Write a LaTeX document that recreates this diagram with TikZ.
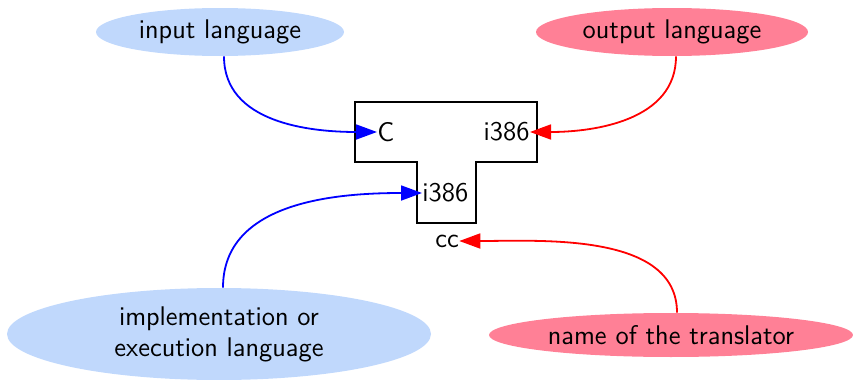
\documentclass[tikz,border=0pt]{standalone}
\usepackage{tikz}
\usetikzlibrary{arrows.meta,shapes.geometric}
\definecolor{srcblue}{RGB}{192,216,252}
\definecolor{dstpink}{RGB}{255,128,150}
\tikzset{
	lang/.style={ellipse,inner sep=0pt,align=center},
	lbl/.style={inner sep=0pt},
	tip/.style={-{Triangle[length=10.5pt,width=7.5pt]},line width=0.9pt}
}

\begin{document}
\begin{tikzpicture}[x=0.5pt,y=-0.5pt,font=\sffamily\fontsize{13.5}{15.5}\selectfont]
	\useasboundingbox (0,0) rectangle (853,380);
	\node[lang,fill=srcblue,minimum width=124pt,minimum height=24pt] (inl) at (220,32) {input language};
	\node[lang,fill=dstpink,minimum width=136pt,minimum height=24pt] (outl) at (672,32) {output language};
	\node[lang,fill=srcblue,minimum width=212pt,minimum height=46pt] (impl) at (219,334) {implementation or\\execution language};
	\node[lang,fill=dstpink,minimum width=182pt,minimum height=22pt] (name) at (671,335) {name of the translator};
	% T-diagram
	\draw[line width=1pt] (355,102) -| (537,162) -| (476,223) -| (417,162) -| (355,102) -- cycle;
	\node[lbl,anchor=west] (src) at (377,132) {C};
	\node[lbl,anchor=east] (dst) at (530,132) {i386};
	\node[lbl,anchor=west] (host) at (422,193) {i386};
	\node[lbl,anchor=west] (cc) at (435,241) {cc};
	\path[tip]
	([xshift=2pt]inl.south) edge[blue,out=-90,in=180] (src)
	([xshift=2pt]outl.south) edge[red,out=-90,in=0] (dst)
	([xshift=2pt]impl.north) edge[blue,out=90,in=180] (host)
	([xshift=3pt]name.north) edge[red,out=90,in=0,looseness=0.9] (cc);
\end{tikzpicture}
\end{document}
